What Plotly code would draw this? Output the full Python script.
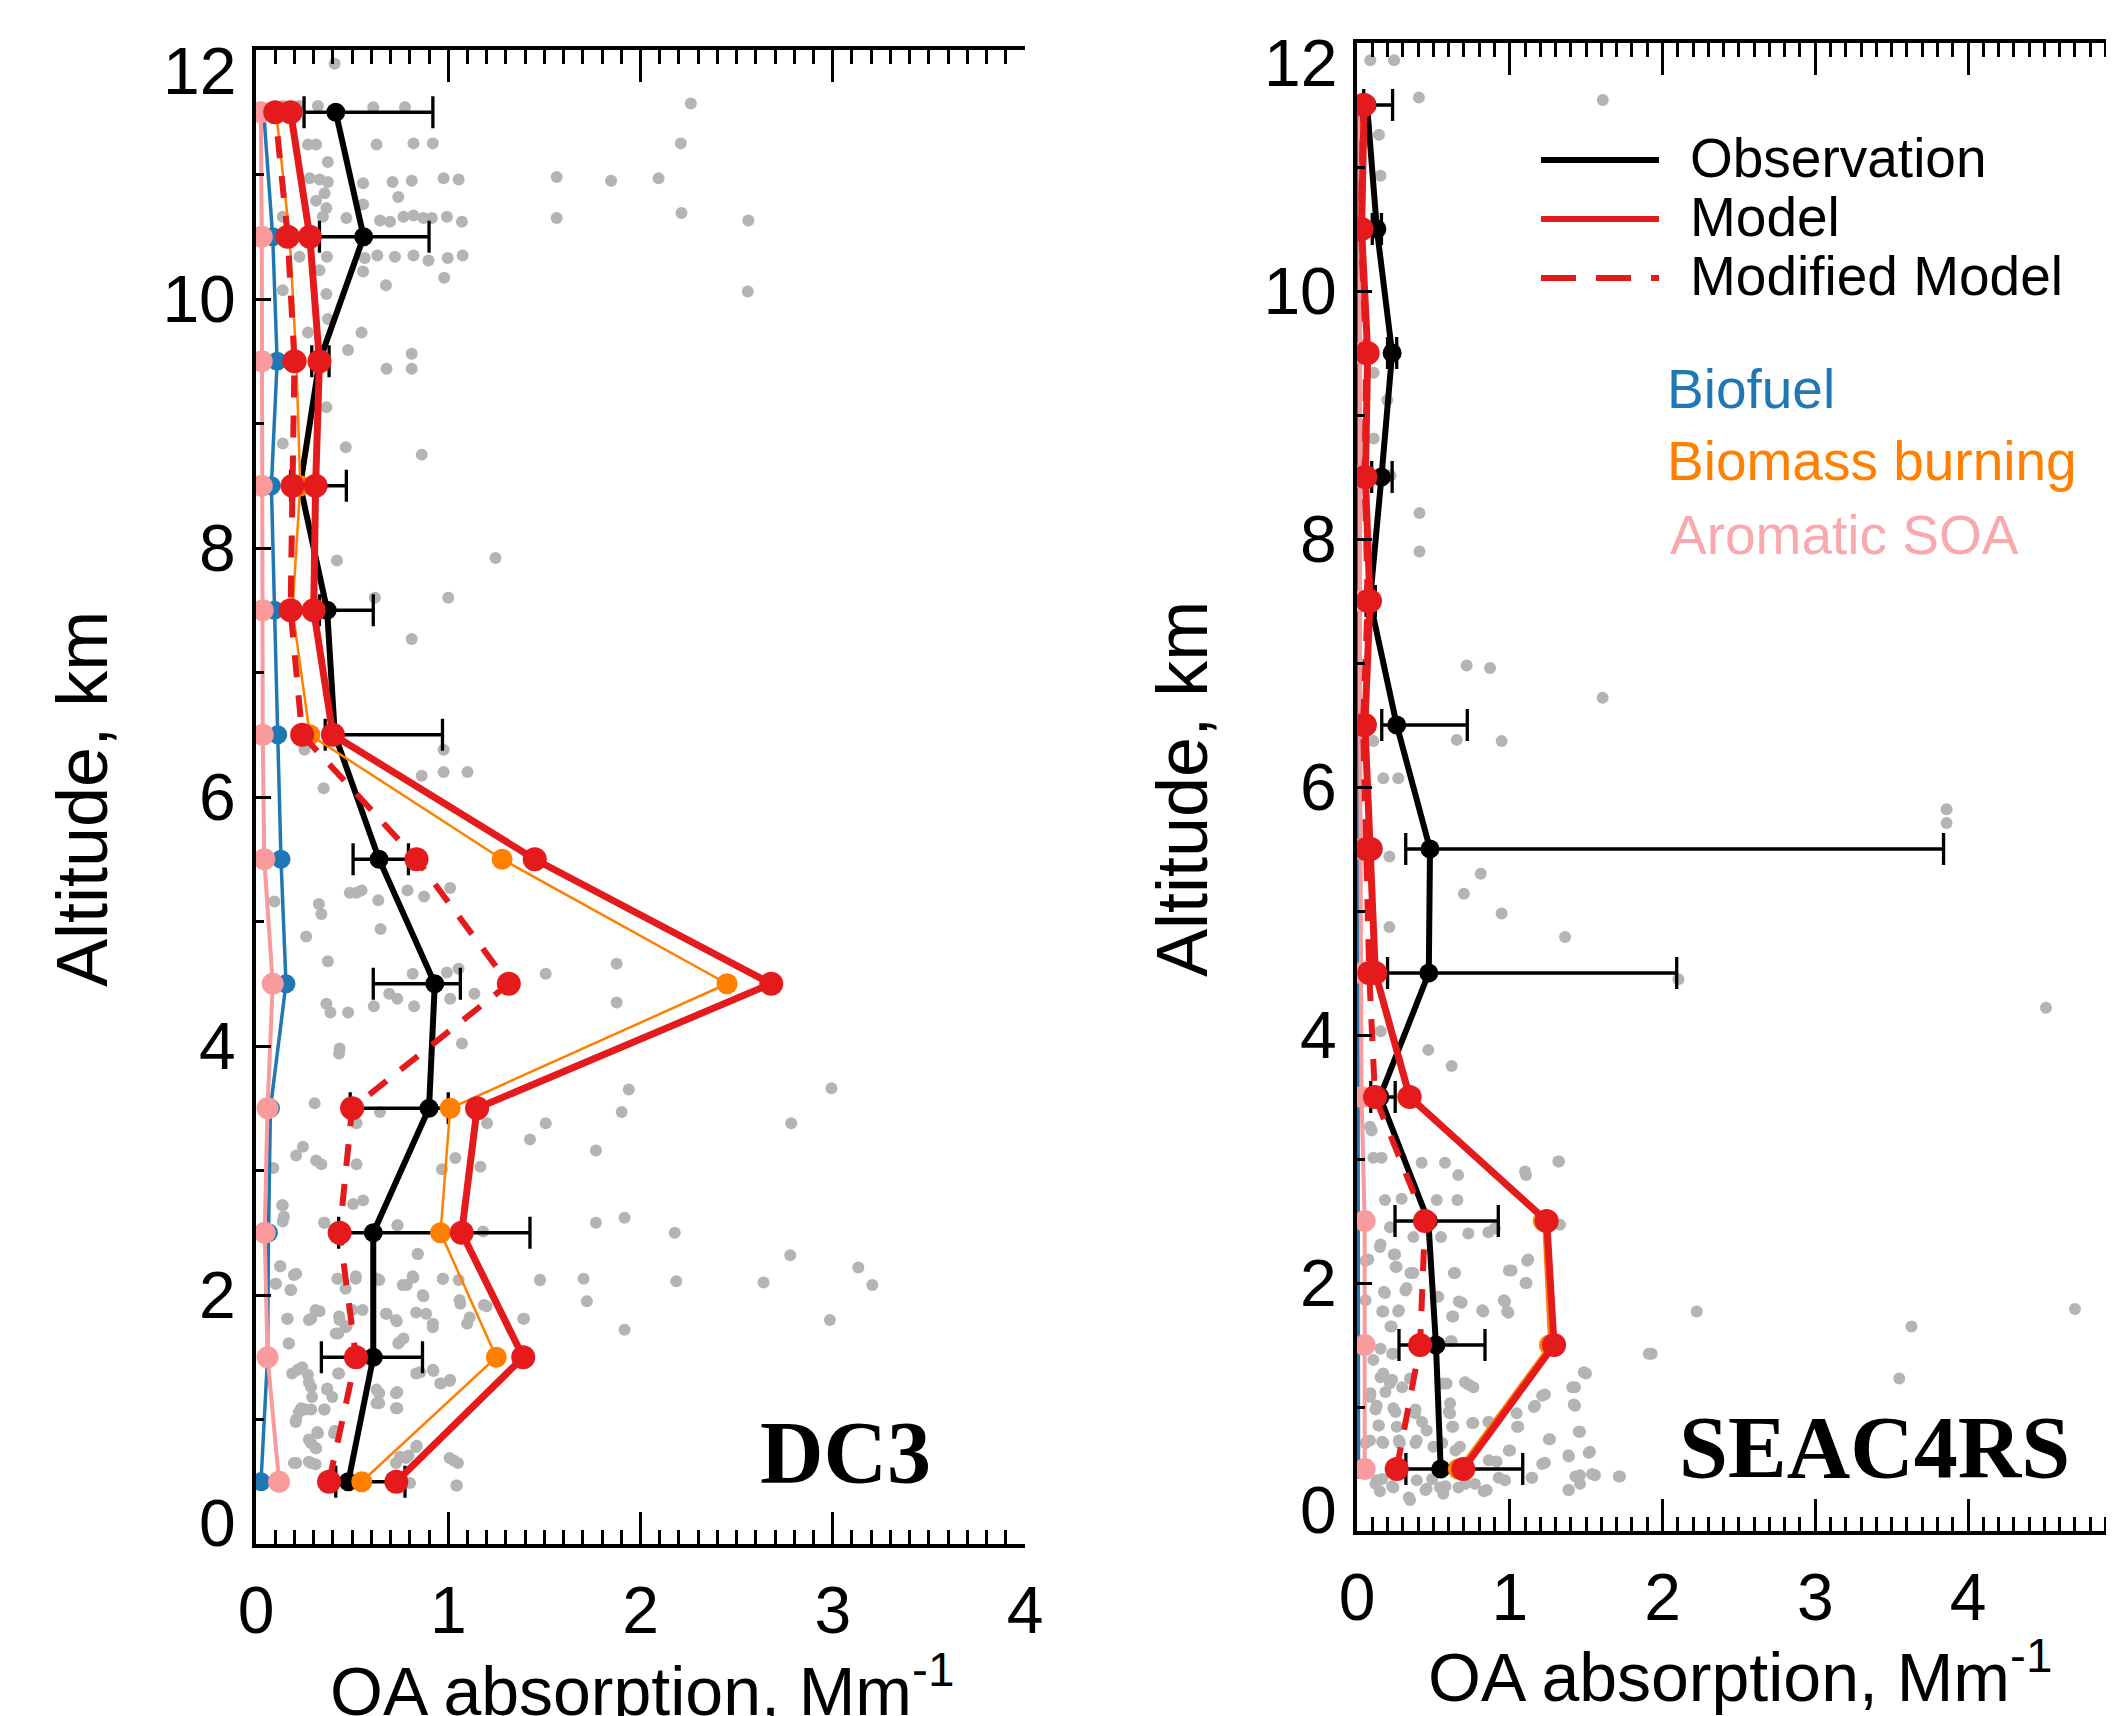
import plotly.graph_objects as go

# The page body has an 8 px margin, so the figure is drawn 8 px in from the window corner.
OFF = 8
W, H = 2114 - OFF, 1716 - OFF

# ---------------- data ----------------
alt = [0.5, 1.5, 2.5, 3.5, 4.5, 5.5, 6.5, 7.5, 8.5, 9.5, 10.5, 11.5]

# DC3
dc3_obs = [0.48, 0.61, 0.61, 0.90, 0.93, 0.64, 0.41, 0.37, 0.23, 0.33, 0.56, 0.415]
dc3_obs_lo = [0.415, 0.34, 0.43, 0.49, 0.61, 0.505, 0.36, 0.33, 0.18, 0.29, 0.33, 0.25]
dc3_obs_hi = [0.775, 0.866, 1.425, 1.0, 1.063, 0.793, 0.97, 0.61, 0.47, 0.38, 0.90, 0.92]
dc3_model = [0.73, 1.39, 1.07, 1.15, 2.68, 1.45, 0.40, 0.30, 0.31, 0.33, 0.28, 0.18]
dc3_modified = [0.38, 0.52, 0.435, 0.50, 1.315, 0.835, 0.24, 0.18, 0.19, 0.20, 0.165, 0.10]
dc3_biomass = [0.55, 1.25, 0.96, 1.01, 2.45, 1.28, 0.28, 0.19, 0.23, 0.21, 0.175, 0.105]
dc3_biofuel = [0.026, 0.06, 0.065, 0.075, 0.156, 0.13, 0.113, 0.096, 0.08, 0.11, 0.087, 0.04]
dc3_aromatic = [0.12, 0.06, 0.045, 0.06, 0.087, 0.043, 0.035, 0.035, 0.03, 0.03, 0.03, 0.025]

# SEAC4RS
seac_obs = [0.548, 0.517, 0.467, 0.15, 0.47, 0.478, 0.26, 0.085, 0.16, 0.23, 0.13, 0.066]
seac_obs_lo = [0.32, 0.275, 0.249, 0.09, 0.2, 0.319, 0.162, 0.06, 0.096, 0.2, 0.1, 0.044]
seac_obs_hi = [1.085, 0.838, 0.925, 0.25, 2.093, 3.84, 0.722, 0.12, 0.23, 0.26, 0.16, 0.233]
seac_model = [0.696, 1.29, 1.242, 0.345, 0.12, 0.09, 0.052, 0.085, 0.055, 0.07, 0.03, 0.047]
seac_modified = [0.26, 0.413, 0.445, 0.118, 0.08, 0.06, 0.04, 0.07, 0.05, 0.06, 0.025, 0.04]
seac_biomass = [0.663, 1.26, 1.22, 0.33, 0.11, 0.08, 0.045, 0.075, 0.05, 0.065, 0.025, 0.04]
seac_biofuel = [0.01, 0.01, 0.008, 0.006, 0.005, 0.005, 0.004, 0.004, 0.004, 0.004, 0.004, 0.004]
seac_aromatic = [0.05, 0.05, 0.05, 0.03, 0.025, 0.02, 0.02, 0.02, 0.02, 0.02, 0.02, 0.02]

# individual measurements (gray)
dc3_pts_x = [0.409, 0.139, 0.226, 0.322, 0.61, 0.775, 2.262, 0.27, 0.313, 0.627, 0.819, 0.92, 2.21,
             0.374, 0.279, 0.331, 0.374, 0.557, 0.71, 0.81, 0.976, 1.054, 1.564, 1.847, 2.094,
             0.74, 0.313, 0.357, 0.557, 0.366, 0.139, 0.348, 0.47, 0.645, 0.697, 0.767, 0.819, 0.871,
             0.915, 0.993, 1.071, 1.564, 2.213, 2.561, 0.226, 0.369, 0.566, 0.631, 0.723, 0.819, 0.897,
             0.997, 1.075, 0.331, 0.557, 0.979, 0.139, 0.366, 0.676, 2.558, 0.374, 0.27, 0.549, 0.479,
             0.81, 0.679, 0.81, 0.366, 0.139, 0.467, 0.862,
             0.421, 1.246, 0.618, 1.0, 0.81, 0.252, 0.976, 0.862, 0.976, 1.1, 0.352, 1.01, 0.523, 0.549,
             0.488, 0.636, 0.788, 0.874, 0.096, 0.327, 0.34, 0.648, 0.261, 0.374, 0.815, 0.993, 1.054,
             1.507, 1.876, 0.366, 0.387, 0.479, 0.613, 0.693, 0.735, 0.822, 1.01, 1.136, 1.876, 1.071, 0.435,
             0.432, 1.939, 0.305, 0.645, 1.902, 1.202, 1.507, 0.523, 1.425, 0.244, 0.209, 0.313, 0.34,
             0.523, 1.768, 1.037, 0.967, 1.167, 0.09, 0.557, 0.505, 0.139, 0.139, 0.357, 0.735, 1.768,
             1.917, 2.178, 0.84, 0.125, 0.209, 0.427, 0.519, 0.627, 0.784, 0.819, 0.972, 1.054, 1.477,
             1.704, 2.186, 0.104, 0.183, 0.871, 1.721, 1.063, 1.185, 0.165, 0.287, 0.331, 0.435, 0.47,
             0.679, 0.732, 0.92, 0.885, 1.098, 1.394, 1.917, 0.427, 0.74, 0.767, 0.17, 0.218, 0.27,
             0.427, 0.287, 0.369, 0.627, 0.735, 0.854, 0.923, 0.958, 1.01, 0.627, 0.735, 0.235, 0.287,
             0.357, 0.209, 0.322, 0.287, 0.313, 0.41, 0.836, 0.793, 0.209, 0.287, 0.749, 1.028, 1.045, 0.801,
             2.993, 2.784, 2.779, 2.64, 3.133, 3.206, 2.985,
             0.136, 0.145, 0.354, 0.737, 0.842, 0.127, 0.197, 0.101, 0.179, 0.423, 0.519, 0.641, 0.763,
             0.815, 0.972, 1.477, 0.867, 0.466, 0.31, 0.162, 0.275, 0.432, 0.501, 0.554, 0.676, 0.728,
             0.833, 0.92, 1.059, 1.111, 1.199, 1.39, 0.415, 0.466, 0.745, 0.171, 0.24, 0.188, 0.275,
             0.432, 0.371, 0.397, 0.292, 0.833, 0.92, 0.963, 1.007, 0.641, 0.641, 0.728, 0.728, 0.223,
             0.258, 0.354, 0.206, 0.319, 0.275, 0.31, 0.406, 0.197, 0.275, 0.31, 0.833, 0.78, 0.728,
             1.007, 1.05, 1.042, 1.181]
dc3_pts_y = [11.89, 11.55, 11.55, 11.55, 11.54, 11.54, 11.57, 11.24, 11.24, 11.24, 11.25, 11.25, 11.25,
             11.1, 10.97, 10.96, 10.94, 10.93, 10.94, 10.95, 10.97, 10.96, 10.98, 10.95, 10.97,
             10.82, 10.79, 10.85, 10.76, 10.73, 10.66, 10.66, 10.65, 10.63, 10.62, 10.66, 10.67, 10.65,
             10.65, 10.66, 10.62, 10.65, 10.69, 10.63, 10.34, 10.34, 10.33, 10.35, 10.34, 10.35, 10.31,
             10.33, 10.35, 10.23, 10.22, 10.17, 10.07, 10.04, 10.11, 10.06, 9.84, 9.73, 9.73, 9.59,
             9.56, 9.44, 9.44, 9.13, 8.84, 8.81, 8.75,
             7.90, 7.92, 7.6, 7.6, 7.27, 6.38, 6.38, 6.17, 6.2, 6.2, 6.07, 5.27, 5.23, 5.25,
             5.23, 5.17, 5.25, 5.20, 5.16, 5.14, 5.06, 4.94, 4.88, 4.68, 4.58, 4.59, 4.62,
             4.58, 4.66, 4.34, 4.27, 4.27, 4.32, 4.42, 4.38, 4.32, 4.38, 4.42, 4.35, 4.02, 3.98,
             3.94, 3.65, 3.54, 3.47, 3.47, 3.38, 3.38, 3.38, 3.25, 3.19, 3.12, 3.08, 3.05,
             3.05, 3.16, 3.1, 3.01, 3.03, 3.02, 2.76, 2.73, 2.72, 2.59, 2.58, 2.56, 2.58,
             2.62, 2.5, 2.33, 2.23, 2.17, 2.13, 2.15, 2.13, 2.08, 2.14, 2.13, 2.12, 2.12,
             2.13, 2.11, 2.09, 2.04, 1.99, 1.95, 1.93, 1.92, 1.81, 1.81, 1.87, 1.80, 1.75,
             1.85, 1.79, 1.74, 1.85, 1.77, 1.81, 1.72, 1.69, 1.61, 1.65, 1.61, 1.40, 1.36,
             1.37, 1.26, 1.24, 1.24, 1.22, 1.38, 1.39, 1.29, 1.32, 1.13, 1.09, 1.09, 1.08,
             1.08, 1.0, 0.89, 0.81, 0.77, 0.91, 0.79, 0.71, 0.65, 0.65, 0.70, 0.67, 0.47, 0.49,
             3.66, 3.38, 2.32, 2.10, 2.22, 2.08, 1.80,
             2.72, 2.63, 2.58, 2.56, 2.33, 2.23, 2.16, 2.09, 2.04, 2.13, 2.13, 2.12, 2.08,
             2.15, 2.13, 2.12, 2.0, 2.05, 1.88, 1.81, 1.80, 1.83, 1.88, 1.88, 1.85, 1.80,
             1.86, 1.77, 1.96, 1.82, 1.91, 1.81, 1.69, 1.74, 1.62, 1.61, 1.42, 1.37, 1.30,
             1.37, 1.25, 1.18, 1.18, 1.37, 1.40, 1.29, 1.31, 1.21, 1.13, 1.21, 1.09, 1.06,
             1.08, 1.08, 0.98, 0.90, 0.84, 0.77, 0.89, 0.65, 0.66, 0.64, 0.78, 0.69, 0.65,
             0.69, 0.65, 0.47, 2.51]

seac_pts_x = [0.087, 0.243, 0.405, 1.609, 0.144, 0.154, 0.109, 0.198, 0.109, 0.22, 0.409, 0.409,
              0.718, 0.871, 1.608, 0.653, 0.947, 0.107, 0.172, 0.27, 3.86, 3.86, 0.212, 0.81, 0.70,
              0.947, 1.362, 0.212, 2.104, 4.51, 0.155, 0.467, 0.62, 0.096,
              0.085, 0.107, 0.161, 0.423, 0.576, 0.663, 1.107, 1.318, 0.183, 0.292, 0.522, 0.657,
              0.216, 0.369, 0.55, 0.729, 0.86, 0.903, 1.329, 0.15, 0.249, 0.074, 0.26, 0.369, 0.642,
              1.012, 1.121, 1.11, 0.183, 0.325, 0.532, 0.685, 0.827, 0.969, 0.991, 0.172, 0.27, 0.63,
              0.227, 2.224, 1.929, 0.107, 0.238, 0.62, 1.499, 1.427, 1.427, 1.46, 1.263, 1.165, 1.23,
              1.045, 1.056, 0.762, 0.86, 0.172, 0.216, 0.347, 0.587, 0.707, 0.762, 0.085, 0.129,
              0.238, 0.38, 0.609, 0.609, 0.14, 0.26, 0.456, 0.63, 0.085, 0.172, 0.281, 0.391, 0.5,
              0.674, 1.002, 1.384, 1.525, 0.914, 1.23, 1.722, 1.46, 1.558, 1.46, 1.384, 1.143, 0.969,
              0.849, 0.129, 0.15, 0.238, 0.347, 0.456, 0.565, 0.664, 0.772, 0.543, 0.391,
              3.63, 3.55, 4.70, 1.10, 1.322,
              0.154, 0.241, 0.056, 0.252, 0.35, 0.634, 0.994, 1.114, 1.103, 0.176, 0.317, 0.056,
              0.667, 0.82, 0.961, 0.983, 0.165, 0.274, 0.219, 0.623, 0.514, 0.612, 0.154, 0.23,
              0.154, 0.23, 0.088, 0.186, 0.296, 0.558, 0.732, 1.485, 1.409, 1.212, 1.158, 1.419,
              0.121, 0.252, 0.383, 0.601, 0.143, 0.426, 0.623, 0.754, 0.863, 1.048, 1.452, 1.256,
              0.056, 0.165, 0.274, 0.383, 0.558, 0.645, 0.994, 0.863, 1.212, 1.387, 1.517, 1.539,
              1.43, 1.714, 1.91, 1.387, 1.147, 0.928, 0.121, 0.23, 0.339, 0.448, 0.579, 0.71, 0.83,
              0.165, 0.492]
seac_pts_y = [11.86, 11.86, 11.56, 11.54, 11.26, 10.93, 9.34, 9.12, 8.81, 8.51, 8.21, 7.90,
              6.98, 6.96, 6.72, 6.38, 6.37, 6.37, 6.07, 6.07, 5.82, 5.71, 5.44, 5.30, 5.14,
              4.98, 4.79, 4.87, 4.45, 4.22, 4.03, 3.88, 3.75, 3.23,
              3.26, 3.01, 3.01, 2.97, 2.97, 2.87, 2.87, 2.98, 2.67, 2.68, 2.67, 2.67,
              2.45, 2.37, 2.37, 2.40, 2.41, 2.44, 2.47, 2.29, 2.23, 2.19, 2.13, 2.08, 2.08,
              2.10, 2.19, 2.00, 1.92, 1.96, 1.89, 1.84, 1.77, 1.85, 1.76, 1.77, 1.77, 1.73,
              1.65, 1.77, 1.43, 1.38, 1.43, 1.53, 1.27, 1.16, 1.01, 0.80, 0.74, 1.01, 1.10,
              0.95, 0.84, 0.87, 0.88, 1.27, 1.19, 1.23, 1.19, 1.20, 1.16, 1.08, 1.01,
              0.99, 0.95, 1.03, 0.95, 0.85, 0.84, 0.81, 0.84, 0.73, 0.71, 0.71, 0.73, 0.68,
              0.68, 0.65, 0.61, 0.64, 0.56, 0.55, 0.44, 0.45, 0.45, 0.38, 0.33, 0.43, 0.41,
              0.33, 0.41, 0.32, 0.35, 0.25, 0.34, 0.30, 0.35, 0.38, 0.35, 0.41,
              1.65, 1.23, 1.79, 2.90, 2.98,
              2.31, 2.23, 2.18, 2.13, 2.08, 2.08, 2.10, 2.18, 2.00, 1.93, 1.94, 1.86,
              1.85, 1.78, 1.86, 1.77, 1.77, 1.78, 1.65, 1.73, 1.89, 1.53, 1.47, 1.43,
              1.24, 1.22, 1.11, 1.12, 1.16, 1.19, 1.18, 1.28, 1.16, 1.09, 1.00, 1.02,
              0.98, 0.96, 0.98, 0.96, 0.85, 0.88, 0.84, 0.87, 0.88, 0.84, 0.80, 0.74,
              0.71, 0.72, 0.73, 0.71, 0.71, 0.65, 0.65, 0.57, 0.54, 0.60, 0.63, 0.46,
              0.44, 0.44, 1.43, 0.33, 0.43, 0.43, 0.38, 0.36, 0.27, 0.33, 0.36, 0.38, 0.32,
              0.42, 0.42]

x_ticks_dc3 = [0, 1, 2, 3, 4]
x_ticks_seac = [0, 1, 2, 3, 4]
y_ticks = [2, 4, 6, 8, 10]

# ---------------- styling ----------------
RED = "#e41a1c"
ORANGE = "#ff7f00"
BLUE = "#1f78b4"
PINK = "#f99a9c"
GRAY = "#b4b4b4"
FONT = "Liberation Sans, Arial, sans-serif"
SERIF = "Liberation Serif, Times New Roman, serif"


def fx(px):  # window pixel x -> paper fraction
    return (px - OFF) / W


def fy(py):  # window pixel y -> paper fraction
    return 1 - (py - OFF) / H


fig = go.Figure()


def add_panel(xa, ya, pts_x, pts_y, biofuel, aromatic, obs, lo, hi, biomass, modified, model):
    fig.add_trace(go.Scatter(x=pts_x, y=pts_y, mode="markers", xaxis=xa, yaxis=ya,
                             marker=dict(size=12, color=GRAY), showlegend=False))
    fig.add_trace(go.Scatter(x=biofuel, y=alt, mode="lines+markers", xaxis=xa, yaxis=ya,
                             line=dict(color=BLUE, width=3.5), marker=dict(size=19, color=BLUE),
                             showlegend=False))
    fig.add_trace(go.Scatter(x=aromatic, y=alt, mode="lines+markers", xaxis=xa, yaxis=ya,
                             line=dict(color=PINK, width=4), marker=dict(size=22, color=PINK),
                             showlegend=False))
    plus = [h - o for h, o in zip(hi, obs)]
    minus = [o - l for o, l in zip(obs, lo)]
    fig.add_trace(go.Scatter(x=obs, y=alt, mode="lines+markers", xaxis=xa, yaxis=ya,
                             line=dict(color="black", width=6), marker=dict(size=19, color="black"),
                             error_x=dict(type="data", symmetric=False, array=plus, arrayminus=minus,
                                          color="black", thickness=3.3, width=16),
                             showlegend=False))
    fig.add_trace(go.Scatter(x=biomass, y=alt, mode="lines+markers", xaxis=xa, yaxis=ya,
                             line=dict(color=ORANGE, width=2.5), marker=dict(size=21, color=ORANGE),
                             showlegend=False))
    fig.add_trace(go.Scatter(x=modified, y=alt, mode="lines+markers", xaxis=xa, yaxis=ya,
                             line=dict(color=RED, width=6, dash="22px,18px"),
                             marker=dict(size=24, color=RED), showlegend=False))
    fig.add_trace(go.Scatter(x=model, y=alt, mode="lines+markers", xaxis=xa, yaxis=ya,
                             line=dict(color=RED, width=7), marker=dict(size=24, color=RED),
                             showlegend=False))


add_panel("x", "y", dc3_pts_x, dc3_pts_y, dc3_biofuel, dc3_aromatic, dc3_obs, dc3_obs_lo,
          dc3_obs_hi, dc3_biomass, dc3_modified, dc3_model)
add_panel("x2", "y2", seac_pts_x, seac_pts_y, seac_biofuel, seac_aromatic, seac_obs, seac_obs_lo,
          seac_obs_hi, seac_biomass, seac_modified, seac_model)

tickfont = dict(family=FONT, size=66, color="black")


def xaxis_cfg(domain, rng, tickvals, anchor):
    return dict(domain=domain, range=rng, anchor=anchor, tickvals=tickvals, automargin=False,
                ticks="inside", ticklen=32, tickwidth=3.3, tickcolor="black",
                minor=dict(dtick=0.1, tick0=0, ticks="inside", ticklen=14, tickwidth=3.3,
                           tickcolor="black"),
                showline=True, linewidth=4, linecolor="black", mirror="ticks",
                showgrid=False, zeroline=False, tickfont=tickfont, ticklabelstandoff=6)


def yaxis_cfg(domain, anchor):
    return dict(domain=domain, range=[0, 12], anchor=anchor, tickvals=y_ticks, automargin=False,
                ticks="inside", ticklen=15, tickwidth=3.3, tickcolor="black",
                minor=dict(dtick=1, tick0=0, ticks="inside", ticklen=8, tickwidth=3.3,
                           tickcolor="black"),
                showline=True, linewidth=4, linecolor="black", mirror=False,
                showgrid=False, zeroline=False, tickfont=tickfont, ticklabelstandoff=3)


def yaxis_right(overlay, anchor, length, minor_len, showline):
    return dict(overlaying=overlay, anchor=anchor, side="right", range=[0, 12], automargin=False,
                tickvals=y_ticks, showticklabels=False,
                ticks="inside", ticklen=length, tickwidth=3.3, tickcolor="black",
                minor=dict(dtick=0.5, tick0=0, ticks="inside", ticklen=minor_len, tickwidth=3.3,
                           tickcolor="black"),
                showline=showline, linewidth=4, linecolor="black",
                showgrid=False, zeroline=False)


xr2 = (2114 - 1357) / 152.75
fig.update_layout(
    width=W, height=H,
    margin=dict(l=0, r=0, t=0, b=0, pad=0, autoexpand=False),
    paper_bgcolor="white", plot_bgcolor="white",
    showlegend=False,
    xaxis=xaxis_cfg([fx(256), fx(1025)], [0, 4], x_ticks_dc3, "y"),
    yaxis=yaxis_cfg([fy(1544), fy(50)], "x"),
    xaxis2=xaxis_cfg([fx(1357), 1.0], [0, xr2], x_ticks_seac, "y2"),
    yaxis2=yaxis_cfg([fy(1531), fy(43)], "x2"),
    yaxis3=yaxis_right("y", "x", 18, 12, True),
    yaxis4=yaxis_right("y2", "x2", 11, 6, False),
)

ann = []


def text(x, y, s, size, color="black", xanchor="center", yanchor="middle", angle=0,
         family=FONT):
    ann.append(dict(x=fx(x), y=fy(y), xref="paper", yref="paper", text=s, showarrow=False,
                    xanchor=xanchor, yanchor=yanchor, textangle=angle,
                    font=dict(family=family, size=size, color=color)))


# end tick labels on y axes (shifted inwards as in the original)
text(238, 71, "12", 66, xanchor="right")
text(238, 1523, "0", 66, xanchor="right")
text(1339, 63, "12", 66, xanchor="right")
text(1339, 1510, "0", 66, xanchor="right")
# clipped "5" at the far right of the SEAC4RS x axis
text(2122, 1595, "5", 66)

# axis titles
text(642, 1686, "OA absorption, Mm<sup>-1</sup>", 68)
text(1740, 1672, "OA absorption, Mm<sup>-1</sup>", 68)
text(82, 799, "Altitude, km", 72, angle=-90)
text(1182, 789, "Altitude, km", 72, angle=-90)

# campaign labels
text(845, 1452, "<b>DC3</b>", 88, family=SERIF)
text(1874, 1447, "<b>SEAC4RS</b>", 88, family=SERIF)

# legend
legend_items = [("Observation", 160, "black", None), ("Model", 219, RED, None),
                ("Modified Model", 278, RED, "dash")]
shapes = []
for label, yy, col, dash in legend_items:
    shapes.append(dict(type="line", xref="paper", yref="paper", x0=fx(1541), x1=fx(1659),
                       y0=fy(yy), y1=fy(yy),
                       line=dict(color=col, width=6, dash="35px,20px" if dash else "solid")))
    text(1688, yy - 2, label, 55, xanchor="left")
text(1665, 389, "Biofuel", 55, color=BLUE, xanchor="left")
text(1665, 461, "Biomass burning", 55, color=ORANGE, xanchor="left")
text(1668, 535, "Aromatic SOA", 55, color="#f9a8ae", xanchor="left")

fig.update_layout(annotations=ann, shapes=shapes)
fig.write_html("out.html")
